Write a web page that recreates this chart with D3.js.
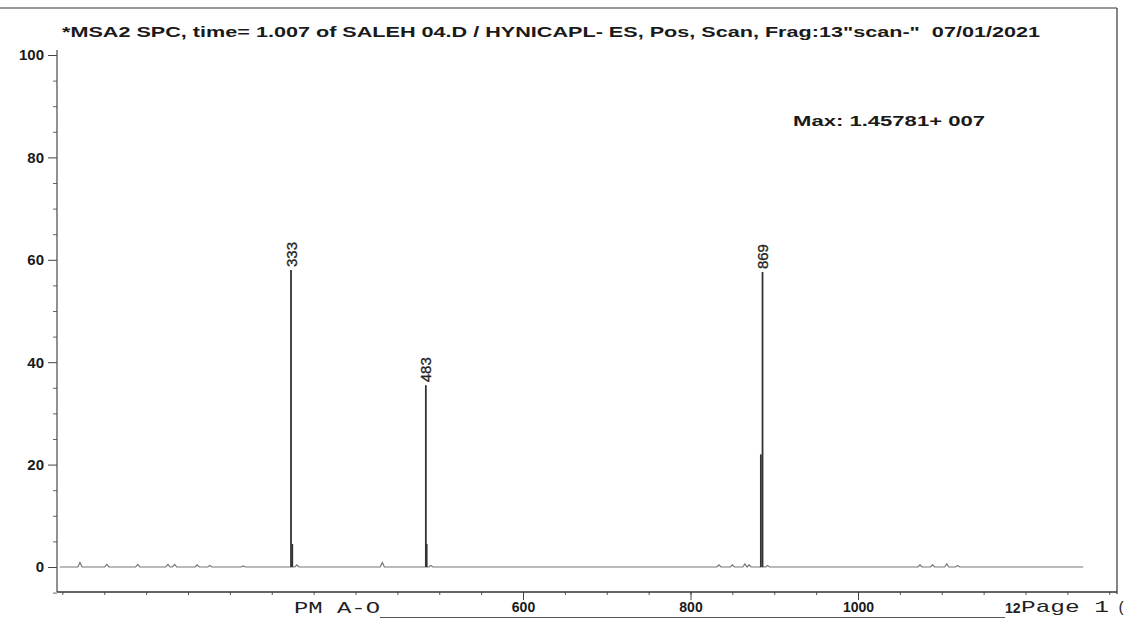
<!DOCTYPE html>
<html>
<head>
<meta charset="utf-8">
<script src="https://cdn.jsdelivr.net/npm/d3@7"></script>
<style>
  body { margin: 0; background: #fff; }
  svg { display: block; }
  .tick text { font-family: "Liberation Sans", Arial, sans-serif; font-weight: bold; fill: #1a1a1a; }
</style>
</head>
<body>
<div id="chart-area"></div>
<script>
// 1. Data (m/z positions read on the printed axis)
var peak_mz     = [323, 324.5, 484, 485, 886, 884];
var peak_height = [58, 4.5, 35.5, 4.5, 57.6, 22];
var peak_labels = [
    { mz: 323, h: 58, text: "333" },
    { mz: 484, h: 35.5, text: "483" },
    { mz: 886, h: 57.6, text: "869" }
];
var noise_mz     = [71, 103, 140, 176, 184, 211, 226, 266, 330, 432, 490, 834, 850, 865, 870, 892, 1074, 1089, 1106, 1119];
var noise_height = [0.9, 0.5, 0.5, 0.5, 0.5, 0.4, 0.3, 0.2, 0.4, 0.9, 0.3, 0.4, 0.4, 0.6, 0.4, 0.3, 0.4, 0.4, 0.6, 0.3];
var y_major = [0, 20, 40, 60, 80, 100];
var x_labels = [600, 800, 1000];

var title_text = "*MSA2 SPC, time= 1.007 of SALEH 04.D / HYNICAPL- ES, Pos, Scan, Frag:13\"scan-\"  07/01/2021";
var max_text = "Max: 1.45781+ 007";

// 2. Canvas
var svg_width = 1128, svg_height = 619;
var svg = d3.select("#chart-area").append("svg")
    .attr("width", svg_width)
    .attr("height", svg_height);

// 3. Scales
var x_scaling = d3.scaleLinear().domain([0, 1000]).range([20.5, 858]);
var y_scaling = d3.scaleLinear().domain([0, 100]).range([567, 55]);

var axis_x = 57, axis_y = 592, right_x = 1117;

// 4. Frame lines (top + right of the printout)
svg.append("line")
    .attr("x1", 0).attr("x2", right_x).attr("y1", 8).attr("y2", 8)
    .attr("stroke", "#777").attr("stroke-width", 1.5);
svg.append("line")
    .attr("x1", right_x).attr("x2", right_x).attr("y1", 8).attr("y2", axis_y + 2)
    .attr("stroke", "#444").attr("stroke-width", 1.3);

// 5. Y axis
var y_axis_call = d3.axisLeft(y_scaling).tickValues(y_major).tickSize(9).tickPadding(4);
var y_axis = svg.append("g")
    .attr("class", "y_axis")
    .attr("transform", "translate(" + axis_x + ",0)")
    .call(y_axis_call);
y_axis.select(".domain").remove();
y_axis.selectAll("text").attr("font-size", "15px");
y_axis.selectAll("line").attr("stroke", "#444");

var y_minor = d3.range(-5, 101, 5).filter(function (d) { return y_major.indexOf(d) == -1; });
var y_minor_axis = svg.append("g")
    .attr("transform", "translate(" + axis_x + ",0)")
    .call(d3.axisLeft(y_scaling).tickValues(y_minor).tickSize(4).tickFormat(""));
y_minor_axis.select(".domain").remove();
y_minor_axis.selectAll("line").attr("stroke", "#666");

svg.append("line")
    .attr("x1", axis_x).attr("x2", axis_x)
    .attr("y1", y_scaling(101)).attr("y2", axis_y)
    .attr("stroke", "#555").attr("stroke-width", 1.3);

// 6. X axis
var x_minor = d3.range(50, 1301, 50);
var x_minor_axis = svg.append("g")
    .attr("transform", "translate(0," + axis_y + ")")
    .call(d3.axisBottom(x_scaling).tickValues(x_minor).tickSize(3).tickFormat(""));
x_minor_axis.select(".domain").remove();
x_minor_axis.selectAll("line").attr("stroke", "#555");

var x_axis = svg.append("g")
    .attr("class", "x_axis")
    .attr("transform", "translate(0," + axis_y + ")")
    .call(d3.axisBottom(x_scaling).tickValues(x_labels).tickSize(8).tickPadding(2)
        .tickFormat(d3.format("d")));
x_axis.select(".domain").remove();
x_axis.selectAll("text").attr("font-size", "14px");
x_axis.selectAll("line").attr("stroke", "#444");

svg.append("line")
    .attr("x1", axis_x).attr("x2", right_x)
    .attr("y1", axis_y).attr("y2", axis_y)
    .attr("stroke", "#333").attr("stroke-width", 1.3);

// 7. Baseline with small noise bumps
var base_points = [[47, 0]];
noise_mz.forEach(function (m, i) {
    base_points.push([m - 2.5, 0], [m, noise_height[i]], [m + 2.5, 0]);
});
base_points.push([1269, 0]);
base_points.sort(function (a, b) { return a[0] - b[0]; });

var line = d3.line()
    .x(function (d) { return x_scaling(d[0]); })
    .y(function (d) { return y_scaling(d[1]); });

svg.append("path")
    .attr("d", line(base_points))
    .attr("fill", "none")
    .attr("stroke", "#777")
    .attr("stroke-width", 1.2);

// 8. Peaks
svg.selectAll(".peak")
    .data(peak_mz)
    .enter().append("line")
    .attr("class", "peak")
    .attr("x1", function (d) { return x_scaling(d); })
    .attr("x2", function (d) { return x_scaling(d); })
    .attr("y1", y_scaling(0))
    .attr("y2", function (d, i) { return y_scaling(peak_height[i]); })
    .attr("stroke", "#333")
    .attr("stroke-width", 1.8);

svg.selectAll(".peak_label")
    .data(peak_labels)
    .enter().append("text")
    .attr("class", "peak_label")
    .attr("transform", function (d) {
        return "translate(" + (x_scaling(d.mz) + 5.5) + "," + (y_scaling(d.h) - 3) + ") rotate(-90)";
    })
    .attr("font-family", "Liberation Sans, Arial, sans-serif")
    .attr("font-size", "15px")
    .attr("fill", "#222")
    .attr("stroke", "#222")
    .attr("stroke-width", 0.3)
    .text(function (d) { return d.text; });

// 9. Header texts
svg.append("text")
    .attr("x", 62).attr("y", 37)
    .attr("font-family", "Liberation Sans, Arial, sans-serif")
    .attr("font-weight", "bold")
    .attr("font-size", "15px")
    .attr("fill", "#1a1a1a")
    .attr("textLength", 978)
    .attr("lengthAdjust", "spacingAndGlyphs")
    .style("white-space", "pre")
    .text(title_text);

svg.append("text")
    .attr("x", 793).attr("y", 126)
    .attr("font-family", "Liberation Sans, Arial, sans-serif")
    .attr("font-weight", "bold")
    .attr("font-size", "15px")
    .attr("fill", "#1a1a1a")
    .attr("textLength", 192)
    .attr("lengthAdjust", "spacingAndGlyphs")
    .text(max_text);

// 10. Printout footer overlays
svg.append("text")
    .attr("x", 294).attr("y", 613)
    .attr("font-family", "Liberation Mono, Courier New, monospace")
    .attr("font-size", "17px")
    .attr("fill", "#222")
    .attr("textLength", 86)
    .attr("lengthAdjust", "spacingAndGlyphs")
    .text("PM A-O");

svg.append("line")
    .attr("x1", 380).attr("x2", 1005).attr("y1", 617.5).attr("y2", 617.5)
    .attr("stroke", "#555").attr("stroke-width", 1);

svg.append("text")
    .attr("x", 1005).attr("y", 613)
    .attr("font-family", "Liberation Sans, Arial, sans-serif")
    .attr("font-weight", "bold")
    .attr("font-size", "14px")
    .attr("fill", "#222")
    .text("12");

svg.append("text")
    .attr("x", 1021).attr("y", 612)
    .attr("font-family", "Liberation Mono, Courier New, monospace")
    .attr("font-size", "17px")
    .attr("fill", "#222")
    .attr("textLength", 88)
    .attr("lengthAdjust", "spacingAndGlyphs")
    .text("Page 1");

svg.append("text")
    .attr("x", 1117).attr("y", 612)
    .attr("font-family", "Liberation Mono, Courier New, monospace")
    .attr("font-size", "15px")
    .attr("fill", "#222")
    .text("(");
</script>
</body>
</html>
